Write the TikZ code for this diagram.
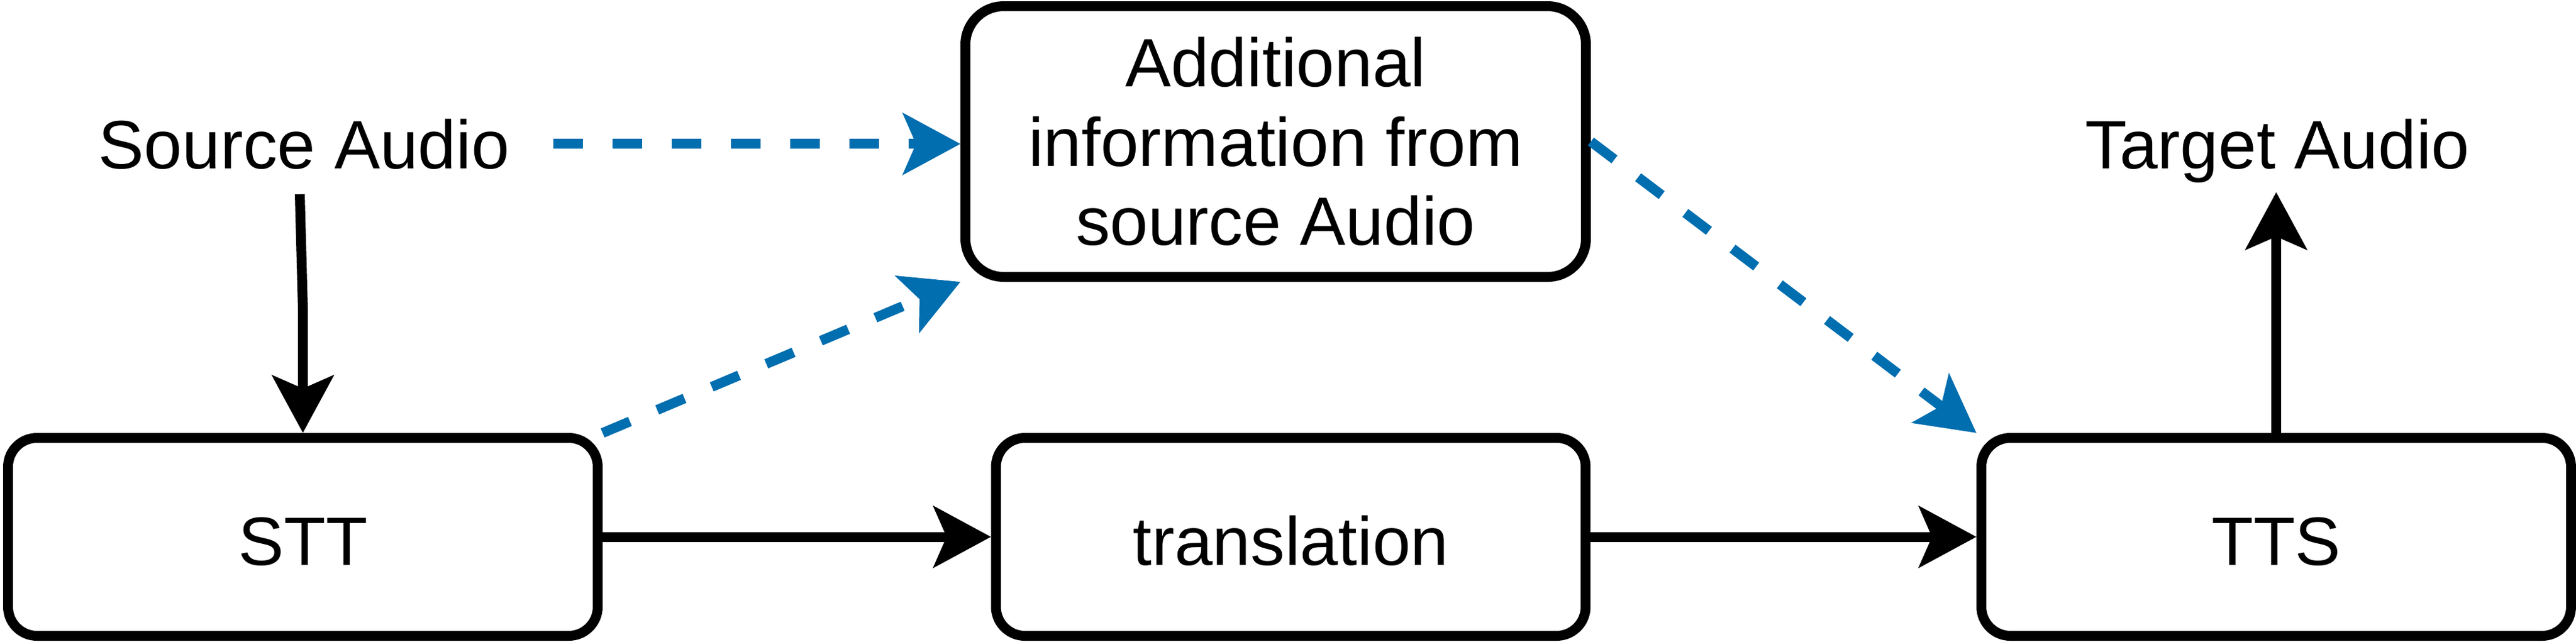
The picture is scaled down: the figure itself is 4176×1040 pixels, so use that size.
\documentclass[tikz,border=0pt]{standalone}
\usepackage{fontspec}
\setmainfont{Liberation Sans}
\usetikzlibrary{arrows.meta}
\definecolor{dblue}{HTML}{006EAF}
\begin{document}
\begin{tikzpicture}[x=0.1pt,y=-0.1pt,
  boxbase/.style={draw=black, line width=1.6pt, fill=white, inner sep=0pt,
    font=\fontsize{11.1}{12.85}\selectfont, align=center},
  lowbox/.style={boxbase, rounded corners=4.7pt, minimum width=95.6pt, minimum height=32.1pt,
    text height=9.1pt, text depth=0pt},
  topbox/.style={boxbase, rounded corners=6.2pt, minimum width=100.6pt, minimum height=43.9pt},
  lbl/.style={font=\fontsize{11.1}{12.85}\selectfont, anchor=base},
  tip/.style={-{Stealth[length=9.3pt,width=9.9pt,inset=2.1pt]}},
  blackarrow/.style={tip, line width=1.6pt, draw=black},
  bluearrow/.style={tip, line width=1.6pt, color=dblue, dash pattern=on 4.8pt off 4.8pt}]
\useasboundingbox (0,0) rectangle (4176,1040);

\node[lowbox] (stt) at (491,870.5) {STT};
\node[lowbox] (trans) at (2092.5,870.5) {translation};
\node[lowbox] (tts) at (3690,870.5) {TTS};
\node[topbox] (add) at (2068,229.5) {Additional\\information from\\source Audio};

\node[lbl, inner xsep=6.9pt, inner ysep=4.2pt] (src) at (493,273) {Source Audio};
\node[lbl, inner xsep=2pt, inner ysep=1.35pt] (tgt) at (3692,273) {Target Audio};

\coordinate (srcb) at (486,315);
\coordinate (bend) at (491,500);

\draw[blackarrow] (srcb) -- (bend) -- (stt.north);
\draw[blackarrow] (stt.east) -- (trans.west);
\draw[blackarrow] (trans.east) -- (tts.west);
\draw[blackarrow] (tts.north) -- (tts.north |- tgt.south);

\draw[bluearrow] (src.east) -- (src.east -| add.west);
\draw[bluearrow] (stt.north east) -- (add.south west);
\draw[bluearrow] (add.east) -- (tts.north west);
\end{tikzpicture}
\end{document}
